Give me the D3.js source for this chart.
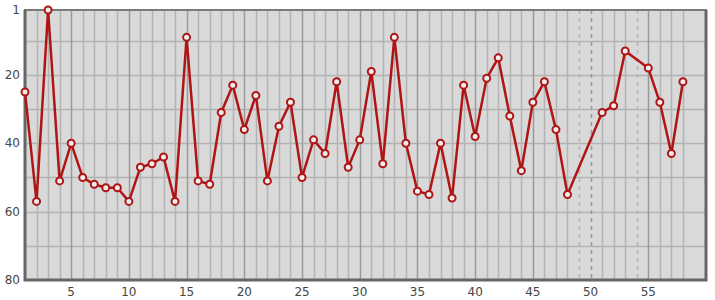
<!DOCTYPE html>
<html>
<head>
<meta charset="utf-8">
<script src="https://cdn.jsdelivr.net/npm/d3@7"></script>
<style>
  body { margin: 0; background: #fff; }
  text { font-family: "DejaVu Sans", sans-serif; font-size: 12px; fill: #444; }
</style>
</head>
<body>
<div id="chart"></div>
<script>
// positions 1..58, null where there is no value
var positions = d3.range(1, 59);
var ranks = [25, 57, 1, 51, 40, 50, 52, 53, 53, 57,
             47, 46, 44, 57, 9, 51, 52, 31, 23, 36,
             26, 51, 35, 28, 50, 39, 43, 22, 47, 39,
             19, 46, 9, 40, 54, 55, 40, 56, 23, 38,
             21, 15, 32, 48, 28, 22, 36, 55, null, null,
             31, 29, 13, null, 18, 28, 43, 22];
var xTicks = [5, 10, 15, 20, 25, 30, 35, 40, 45, 50, 55];
var yTicks = [1, 20, 40, 60, 80];
var yMinor = [10, 30, 50, 70];

var margin = {top: 10, right: 9, bottom: 20, left: 25};
var width = 715 - margin.left - margin.right,
    height = 300 - margin.top - margin.bottom;

var svg = d3.select("#chart").append("svg")
    .attr("width", 715)
    .attr("height", 300)
  .append("g")
    .attr("transform", "translate(" + margin.left + "," + margin.top + ")");

var data = positions.map(function(p, i) { return {x: p, y: ranks[i]}; });

var x = d3.scaleLinear().domain([1, 60]).range([0, width]);
var y = d3.scaleLinear().domain([1, 80]).range([0, height]);

// background
svg.append("rect")
    .attr("width", width)
    .attr("height", height)
    .attr("fill", "#d9d9d9");

// horizontal grid
svg.selectAll(".hgrid")
    .data(yMinor.concat([20, 40, 60]))
  .enter().append("line")
    .attr("x1", 0).attr("x2", width)
    .attr("y1", function(d) { return Math.round(y(d)) + 0.5; })
    .attr("y2", function(d) { return Math.round(y(d)) + 0.5; })
    .attr("stroke", "#b3b3b3")
    .attr("stroke-width", 1.5);

// vertical grid, dashed where a value is missing
svg.selectAll(".vgrid")
    .data(data.slice(1))
  .enter().append("line")
    .attr("x1", function(d) { return Math.round(x(d.x)) + 0.5; })
    .attr("x2", function(d) { return Math.round(x(d.x)) + 0.5; })
    .attr("y1", 0).attr("y2", height)
    .attr("stroke", function(d) { return d.x % 5 === 0 ? "#9a9a9a" : "#b3b3b3"; })
    .attr("stroke-width", 1.5)
    .attr("stroke-dasharray", function(d) { return d.y === null ? "4,4" : null; });

// frame
svg.append("rect")
    .attr("width", width)
    .attr("height", height)
    .attr("fill", "none")
    .attr("stroke", "#7a7a7a")
    .attr("stroke-width", 2);
svg.append("path")
    .attr("d", "M0,0V" + height + "H" + width + "V0")
    .attr("fill", "none")
    .attr("stroke", "#666")
    .attr("stroke-width", 3);

// axes labels
svg.selectAll(".ylab")
    .data(yTicks)
  .enter().append("text")
    .attr("x", -5)
    .attr("y", function(d) { return y(d); })
    .attr("dy", "0.35em")
    .attr("text-anchor", "end")
    .text(function(d) { return d; });

svg.selectAll(".xlab")
    .data(xTicks)
  .enter().append("text")
    .attr("x", function(d) { return x(d); })
    .attr("y", height + 16)
    .attr("text-anchor", "middle")
    .text(function(d) { return d; });

// line skips missing values and joins the neighbours
var present = data.filter(function(d) { return d.y !== null; });
var line = d3.line()
    .x(function(d) { return x(d.x); })
    .y(function(d) { return y(d.y); });

svg.append("path")
    .datum(present)
    .attr("fill", "none")
    .attr("stroke", "#b01515")
    .attr("stroke-width", 2.5)
    .attr("stroke-linejoin", "round")
    .attr("d", line);

svg.selectAll(".dot")
    .data(present)
  .enter().append("circle")
    .attr("cx", function(d) { return x(d.x); })
    .attr("cy", function(d) { return y(d.y); })
    .attr("r", 3.5)
    .attr("fill", "#eeeeee")
    .attr("stroke", "#b01515")
    .attr("stroke-width", 2);
</script>
</body>
</html>
